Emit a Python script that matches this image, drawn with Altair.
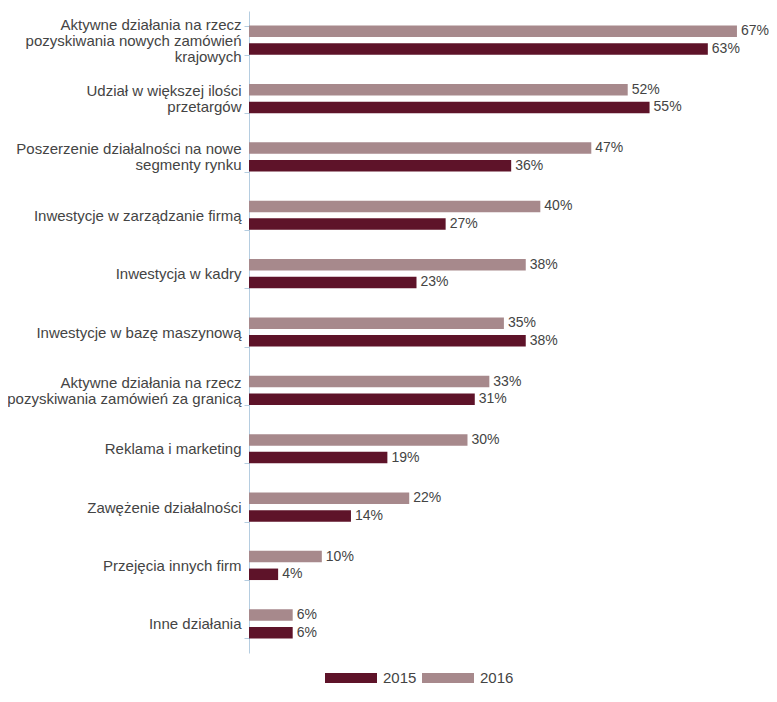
import altair as alt
import pandas as pd

categories = [
    "Aktywne działania na rzecz|pozyskiwania nowych zamówień|krajowych",
    "Udział w większej ilości|przetargów",
    "Poszerzenie działalności na nowe|segmenty rynku",
    "Inwestycje w zarządzanie firmą",
    "Inwestycja w kadry",
    "Inwestycje w bazę maszynową",
    "Aktywne działania na rzecz|pozyskiwania zamówień za granicą",
    "Reklama i marketing",
    "Zawężenie działalności",
    "Przejęcia innych firm",
    "Inne działania",
]
values_2015 = [63, 55, 36, 27, 23, 38, 31, 19, 14, 4, 6]
values_2016 = [67, 52, 47, 40, 38, 35, 33, 30, 22, 10, 6]
years = ["2015", "2016"]
colors = ["#5e1329", "#a7898c"]

rows = []
for c, v15, v16 in zip(categories, values_2015, values_2016):
    rows.append({"cat": c, "year": "2015", "value": v15})
    rows.append({"cat": c, "year": "2016", "value": v16})
df = pd.DataFrame(rows)

FONT = "Liberation Sans"
TXT = "#444444"

y = alt.Y(
    "cat:N",
    sort=categories,
    scale=alt.Scale(paddingInner=0.5, paddingOuter=0.25),
    axis=alt.Axis(
        title=None,
        labelExpr="split(datum.label, '|')",
        labelFont=FONT,
        labelFontSize=15,
        labelColor=TXT,
        labelLineHeight=16,
        labelPadding=3,
        labelLimit=300,
        labelOffset={"expr": "-(length(split(datum.value, '|')) - 1) * 8"},
        tickBand="extent",
        tickSize=5,
        tickColor="#b5cde0",
        domainColor="#b5cde0",
        domainWidth=1,
        grid=False,
    ),
)
yo = alt.YOffset(
    "year:N",
    sort=["2016", "2015"],
    scale=alt.Scale(paddingInner=0.35, paddingOuter=0),
)
x = alt.X("value:Q", scale=alt.Scale(domain=[0, 71.4]), axis=None)

bars = alt.Chart(df).mark_bar().encode(
    y=y,
    yOffset=yo,
    x=x,
    color=alt.Color(
        "year:N",
        scale=alt.Scale(domain=years, range=colors),
        legend=alt.Legend(
            title=None,
            orient="none",
            direction="horizontal",
            legendX=92,
            legendY=657,
            symbolType="M-2.6,-0.5H2.6V0.5H-2.6Z",
            symbolSize=400,
            symbolStrokeWidth=0,
            labelOffset=22,
            columnPadding=5,
            labelFont=FONT,
            labelFontSize=15,
            labelColor=TXT,
        ),
    ),
)

labels = alt.Chart(df).transform_calculate(
    label="datum.value + '%'"
).mark_text(
    align="left", baseline="middle", dx=4, font=FONT, fontSize=14, color=TXT
).encode(y=y, yOffset=yo, x=x, text="label:N")

chart = alt.layer(bars, labels).properties(
    width=520,
    height=642,
    padding={"left": 241, "top": 3, "right": 0, "bottom": 34},
    autosize=alt.AutoSizeParams(type="none"),
).configure_view(stroke=None)

chart.save("out.html", embed_options={"renderer": "svg", "actions": False})
